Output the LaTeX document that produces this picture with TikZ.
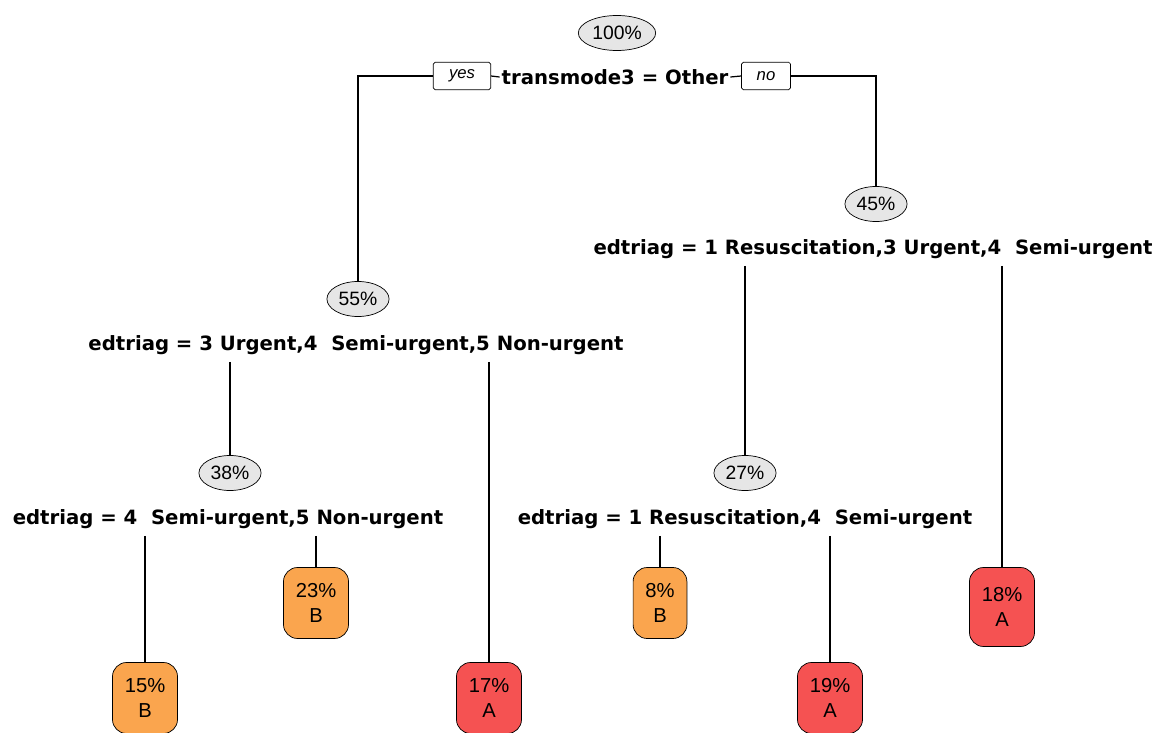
\documentclass[tikz,border=0pt]{standalone}
\usepackage{fontspec}
\setmainfont{Liberation Sans}
\newfontfamily\splitfont{DejaVu Sans}
\usepackage{xcolor}
\usetikzlibrary{shapes.geometric}
\definecolor{leafred}{RGB}{245,82,82}
\definecolor{leaforange}{RGB}{250,165,78}
\definecolor{pctgray}{RGB}{230,230,230}

\begin{document}
\begin{tikzpicture}[x=0.02cm, y=-0.02cm,
  pct/.style={ellipse, draw=black, fill=pctgray, inner xsep=1.5pt, inner ysep=0pt, minimum height=0.7cm, font=\fontsize{11}{12}\selectfont},
  split/.style={inner sep=1pt, font=\splitfont\bfseries\fontsize{11.2}{13}\selectfont},
  yesno/.style={rectangle, draw=black, fill=white, rounded corners=1pt, minimum width=1.15cm, minimum height=0.55cm, font=\itshape\fontsize{9.5}{10}\selectfont},
  leafA/.style={rectangle, draw=black, fill=leafred, rounded corners=8pt, align=center, inner xsep=7pt, minimum height=1.42cm, font=\fontsize{11.5}{14}\selectfont},
  leafB/.style={leafA, fill=leaforange},
  line/.style={draw, line width=0.7pt}]

  \useasboundingbox (0,0) rectangle (1166,733);
  \clip (0,0) rectangle (1166,733);

  % root
  \node [pct] (r100) at (617,33) {100\%};
  \node [split] (sroot) at (615,77) {transmode3 = Other};
  \node [yesno] (yes) at (462,76) {yes};
  \node [yesno, minimum width=0.98cm] (no) at (766,76) {no};

  % left branch
  \node [pct] (n55) at (358,299) {55\%};
  \node [split] (s55) at (356,345) {edtriag = 3 Urgent,4\ \ Semi-urgent,5 Non-urgent};
  \node [pct] (n38) at (230,473) {38\%};
  \node [split] (s38) at (228,519) {edtriag = 4\ \ Semi-urgent,5 Non-urgent};
  \node [leafB] (l15) at (145,698) {15\%\\B};
  \node [leafB] (l23) at (316,603) {23\%\\B};
  \node [leafA] (l17) at (489,698) {17\%\\A};

  % right branch
  \node [pct] (n45) at (876,204) {45\%};
  \node [split] (s45) at (873,249) {edtriag = 1 Resuscitation,3 Urgent,4\ \ Semi-urgent};
  \node [pct] (n27) at (745,473) {27\%};
  \node [split] (s27) at (745,519) {edtriag = 1 Resuscitation,4\ \ Semi-urgent};
  \node [leafB] (l8) at (660,603) {8\%\\B};
  \node [leafA] (l19) at (830,698) {19\%\\A};
  \node [leafA, minimum height=1.58cm] (l18) at (1002,607) {18\%\\A};

  \path [line] (yes.west) -| (n55.north);
  \path [line] (no.east) -| (n45.north);
  \path [line] (yes.east) -- (sroot.west);
  \path [line] (sroot.east) -- (no.west);

  \path [line] ([yshift=-3pt]s55.south -| n38.north) -- (n38.north);
  \path [line] ([yshift=-3pt]s55.south -| l17.north) -- (l17.north);
  \path [line] ([yshift=-3pt]s38.south -| l15.north) -- (l15.north);
  \path [line] ([yshift=-3pt]s38.south -| l23.north) -- (l23.north);
  \path [line] ([yshift=-3pt]s45.south -| n27.north) -- (n27.north);
  \path [line] ([yshift=-3pt]s45.south -| l18.north) -- (l18.north);
  \path [line] ([yshift=-3pt]s27.south -| l8.north) -- (l8.north);
  \path [line] ([yshift=-3pt]s27.south -| l19.north) -- (l19.north);
\end{tikzpicture}
\end{document}
